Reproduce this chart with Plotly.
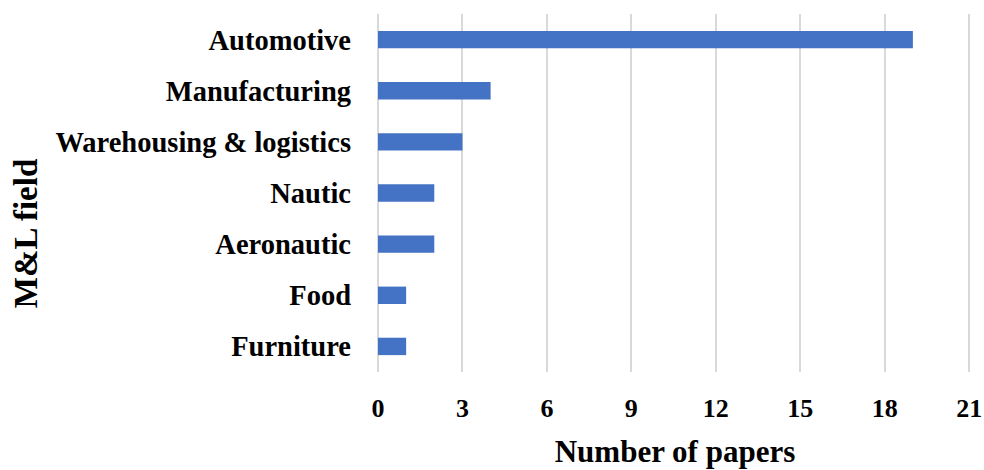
import plotly.graph_objects as go

fields = ['Automotive', 'Manufacturing', 'Warehousing & logistics', 'Nautic',
          'Aeronautic', 'Food', 'Furniture']
papers = [19, 4, 3, 2, 2, 1, 1]
x_ticks = [0, 3, 6, 9, 12, 15, 18, 21]

bar_col = '#4472c4'
grid_col = '#d9d9d9'
font_fam = 'Liberation Serif'

fig = go.Figure()
fig.add_trace(go.Bar(
    x=papers, y=fields, orientation='h',
    marker=dict(color=bar_col, line=dict(width=0)),
    width=0.34,
))

fig.update_layout(
    width=984, height=470,
    margin=dict(l=378, r=12, t=14, b=98),
    plot_bgcolor='white', paper_bgcolor='white',
    showlegend=False,
    font=dict(family=font_fam, size=28, color='black', weight='bold'),
)

fig.update_xaxes(
    range=[0, 21.1], tickvals=x_ticks,
    automargin=False,
    showgrid=True, gridcolor=grid_col, gridwidth=1.5,
    zeroline=True, zerolinecolor=grid_col, zerolinewidth=1.5,
    showline=False, ticks='',
    ticklabelstandoff=18, ticklabeloverflow='allow',
    tickfont=dict(family=font_fam, size=26, weight='bold'),
    title=dict(text='Number of papers', standoff=18,
               font=dict(family=font_fam, size=31, weight='bold')),
)

fig.update_yaxes(
    categoryorder='array', categoryarray=fields[::-1],
    automargin=False,
    showgrid=False, showline=False, ticks='',
    ticklabelstandoff=26,
    tickfont=dict(family=font_fam, size=28.5, weight='bold'),
)

# y title sits lower than centre in the original, so place it by hand
fig.add_annotation(
    text='M&L field', textangle=-90, showarrow=False,
    xref='paper', yref='paper', x=-352 / 594, y=0.385,
    xanchor='center', yanchor='middle',
    font=dict(family=font_fam, size=33, weight='bold'),
)

# drop the page's default body margin so the figure sits at the window corner
fig.write_html("out.html", config={'displayModeBar': False},
               post_script="document.body.style.margin='0';")
